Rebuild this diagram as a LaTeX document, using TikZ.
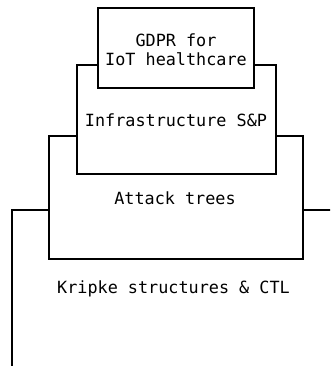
\documentclass[tikz,border=0pt]{standalone}
\usepackage{fontspec}
\setmonofont{DejaVu Sans Mono}
\begin{document}
\begin{tikzpicture}[x=1pt,y=-1pt,
  layerbox/.style={draw=black,fill=white,line width=1.6pt},
  lbl/.style={font=\ttfamily\fontsize{16.8}{19}\selectfont,align=center,inner sep=0pt}]
\useasboundingbox (0,0) rectangle (330,366);
\clip (0,0) rectangle (330,366);
\fill[white] (0,0) rectangle (330,366);
\draw[layerbox] (12,210) rectangle (336,370);
\draw[layerbox] (49,136) rectangle (303,259);
\draw[layerbox] (77,65) rectangle (276,174);
\draw[layerbox] (98,8) rectangle (254,88);
\node[lbl] (gdpr) at (176,49.5) {GDPR for\\IoT healthcare};
\node[lbl] (infra) at (176,120) {Infrastructure S\&P};
\node[lbl] (attack) at (175,198) {Attack trees};
\node[lbl] (kripke) at (173.5,289) {Kripke structures \& CTL};
\end{tikzpicture}
\end{document}
